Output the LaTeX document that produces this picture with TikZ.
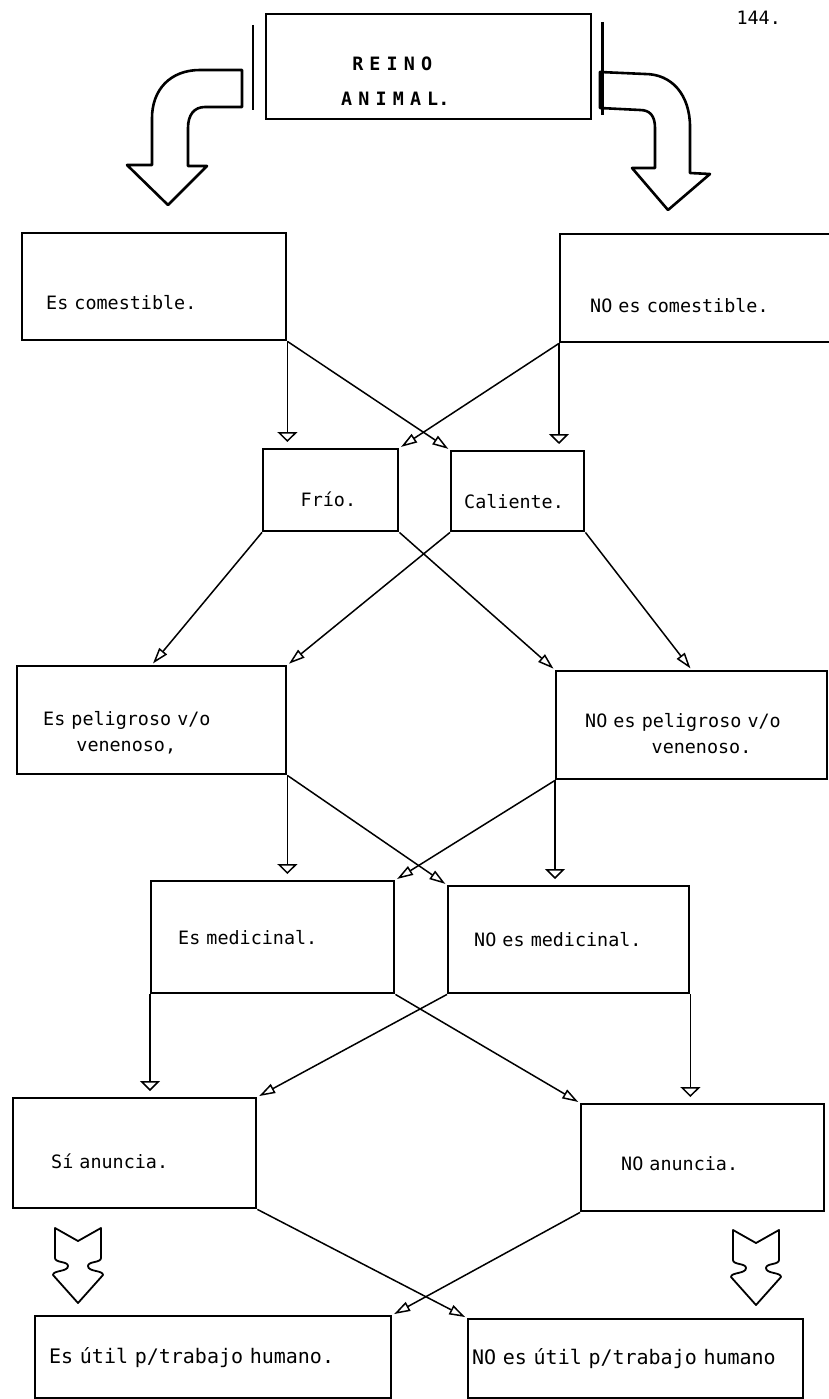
\documentclass[tikz,border=0pt]{standalone}
\usepackage{fontspec}
\newfontfamily\maquina{DejaVu Sans Mono}
\newcommand\maq[2]{\maquina\fontsize{#1}{#2}\selectfont
  \fontdimen2\font=.602em\fontdimen3\font=0pt\fontdimen4\font=0pt\relax}
\usepackage{tikz}
\usetikzlibrary{arrows.meta}

\tikzset{
  caja/.style={draw, line width=2.4pt, anchor=north west, inner sep=0pt, align=left,
               font={\maq{18.4}{26}}},
  grande/.style={font={\maq{20}{26}}},
  drop/.style={text height=#1, text depth=0pt},
  linea/.style={line width=1.5pt},
  vin/.style={linea, -{Triangle[open, length=10pt, width=20pt]}, shorten >=6pt},
  xin/.style={linea, -{Triangle[open, length=16pt, width=10pt]}, shorten >=2pt},
  bloque/.style={line width=2.6pt, line join=round},
}

\begin{document}
\begin{tikzpicture}[x=1pt, y=-1pt]
\useasboundingbox (0,0) rectangle (828,1399);
%
\node[font={\maq{18.4}{22}}, anchor=west] (pagina) at (733,18) {144.};
\node[caja, minimum width=325pt, minimum height=105pt, text width=175pt, drop=7.6pt,
      font={\maq{18.4}{35}\bfseries}] (reino) at (265,13)
      {\hphantom{A}R E I N O\\A N I M A L.};
\draw[bloque] ([xshift=-12pt,yshift=-12pt]reino.north west) -- ([xshift=-12pt,yshift=10pt]reino.south west);
\draw[bloque] ([xshift=10pt,yshift=-9pt]reino.north east) -- ([xshift=10pt,yshift=5pt]reino.south east);
% flechas gruesas
\draw[bloque] (242,70) -- (200,70) .. controls (170,70) and (152,90) .. (152,118) -- (152,165)
   -- (127,165) -- (168,205) -- (207,166) -- (188,166) -- (188,128)
   .. controls (188,115) and (194,107) .. (205,107) -- (242,107) -- cycle;
\draw[bloque] (600,72) -- (645,74) .. controls (672,74) and (690,95) .. (690,127) -- (690,173)
   -- (710,174) -- (668,210) -- (632,168) -- (655,168) -- (655,128)
   .. controls (655,116) and (650,110) .. (640,110) -- (600,108) -- cycle;

% cajas
\node[caja, minimum width=264pt, minimum height=107pt, text width=216pt, drop=46pt] (comest) at (21,232) {Es comestible.};
\node[caja, minimum width=277pt, minimum height=108pt, text width=217pt, drop=48pt] (nocomest) at (559,233) {NO es comestible.};
\node[caja, minimum width=135pt, minimum height=82pt, text width=60pt, drop=32pt] (frio) at (262,448) {Frío.};
\node[caja, minimum width=133pt, minimum height=80pt, text width=107pt, drop=34pt] (cal) at (450,450) {Caliente.};
\node[caja, minimum width=269pt, minimum height=108pt, text width=217pt, drop=10pt] (pelig) at (16,665)
   {Es peligroso v/o\\\phantom{xxx}venenoso,};
\node[caja, minimum width=271pt, minimum height=108pt, text width=213pt, drop=4pt] (nopelig) at (555,670)
   {NO es peligroso v/o\\\phantom{xxxxxx}venenoso.};
\node[caja, minimum width=243pt, minimum height=112pt, text width=189pt] (medic) at (150,880) {Es medicinal.};
\node[caja, minimum width=241pt, minimum height=107pt, text width=189pt] (nomedic) at (447,885) {NO es medicinal.};
\node[caja, minimum width=243pt, minimum height=110pt, text width=167pt, drop=30pt] (si) at (12,1097) {Sí anuncia.};
\node[caja, minimum width=243pt, minimum height=107pt, text width=163pt, drop=26pt] (noanun) at (580,1103) {NO anuncia.};
\node[caja, grande, minimum width=356pt, minimum height=82pt, text width=328pt] (util) at (34,1315) {Es útil p/trabajo humano.};
\node[caja, grande, minimum width=335pt, minimum height=79pt, text width=327pt] (noutil) at (467,1318) {NO es útil p/trabajo humano};

% comestible -> frio / caliente
\draw[vin] (comest.south east) -- (comest.south east |- frio.north);
\draw[xin] (comest.south east) -- (cal.north west);
\draw[vin] (nocomest.south west) -- (nocomest.south west |- cal.north);
\draw[xin] (nocomest.south west) -- (frio.north east);
% frio / caliente -> peligroso
\draw[xin] (frio.south west) -- (pelig.north);
\draw[xin] (frio.south east) -- (nopelig.north west);
\draw[xin] (cal.south west) -- (pelig.north east);
\draw[xin] (cal.south east) -- (nopelig.north);
% peligroso -> medicinal
\draw[vin] (pelig.south east) -- (pelig.south east |- medic.north);
\draw[xin] (pelig.south east) -- (nomedic.north west);
\draw[vin] (nopelig.south west) -- (nopelig.south west |- nomedic.north);
\draw[xin] (nopelig.south west) -- (medic.north east);
% medicinal -> anuncia
\draw[vin] (medic.south west) -- (medic.south west |- si.north);
\draw[xin] (medic.south east) -- (noanun.north west);
\draw[vin] (nomedic.south east) -- (nomedic.south east |- noanun.north);
\draw[xin] (nomedic.south west) -- (si.north east);
% anuncia -> util
\draw[xin] (si.south east) -- (noutil.north west);
\draw[xin] (noanun.south west) -- (util.north east);
%
\foreach \cx/\cy in {78/1228, 756/1230}
  \draw[bloque, line width=1.8pt, shift={(\cx,\cy)}] (-23,0) -- (0,13) -- (23,0) -- (23,30)
     .. controls (23,35) and (10,33) .. (10,38) .. controls (10,44) and (25,42) .. (25,47)
     -- (0,75) -- (-25,47) .. controls (-25,42) and (-10,44) .. (-10,38)
     .. controls (-10,33) and (-23,35) .. (-23,30) -- cycle;
\end{tikzpicture}
\end{document}
